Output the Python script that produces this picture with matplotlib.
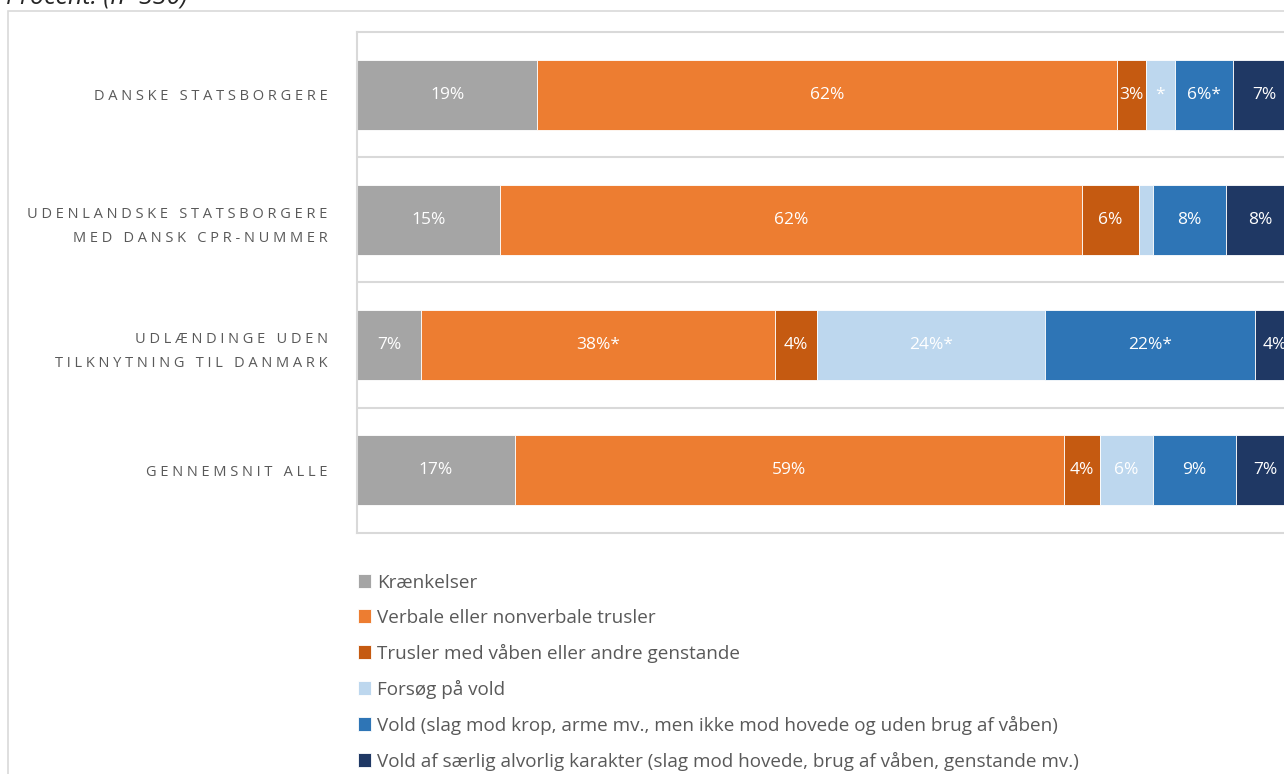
import matplotlib.pyplot as plt
from matplotlib.patches import Rectangle

plt.rcParams['font.family'] = ['Open Sans', 'DejaVu Sans']

# Data
kategorier = ['DANSKE STATSBORGERE',
              'UDENLANDSKE STATSBORGERE\nMED DANSK CPR-NUMMER',
              'UDLÆNDINGE UDEN\nTILKNYTNING TIL DANMARK',
              'GENNEMSNIT ALLE']
serier = ['Krænkelser',
          'Verbale eller nonverbale trusler',
          'Trusler med våben eller andre genstande',
          'Forsøg på vold',
          'Vold (slag mod krop, arme mv., men ikke mod hovede og uden brug af våben)',
          'Vold af særlig alvorlig karakter (slag mod hovede, brug af våben, genstande mv.)']
kraenkelser = [19.2, 15.2, 6.8, 16.8]
verbale = [61.8, 62.1, 37.8, 58.6]
trusler_vaaben = [3.1, 6.1, 4.4, 3.8]
forsoeg = [3.1, 1.5, 24.4, 5.7]
vold = [6.2, 7.7, 22.3, 8.8]
alvorlig = [6.6, 7.4, 4.3, 6.3]
etiketter = [['19%', '15%', '7%', '17%'],
             ['62%', '62%', '38%*', '59%'],
             ['3%', '6%', '4%', '4%'],
             ['*', '', '24%*', '6%'],
             ['6%*', '8%', '22%*', '9%'],
             ['7%', '8%', '4%', '7%']]
farver = ['#A5A5A5', '#ED7D31', '#C55A11', '#BDD7EE', '#2E75B6', '#1F3864']

W, H = 1284, 774
fig = plt.figure(figsize=(W / 100, H / 100), dpi=100)

# ydre ramme
fig.patches.append(Rectangle((8 / W, -0.2), 2.0, 1.2 - 11 / H, transform=fig.transFigure,
                             fill=False, edgecolor='#D9D9D9', linewidth=1.2))
fig.text(6 / W, 1 - 4 / H, 'Procent. (n=330)', style='italic', fontsize=18,
         color='#262626', va='baseline')

ax = fig.add_axes([357 / W, 1 - 533 / H, 938 / W, 501 / H])

data = [kraenkelser, verbale, trusler_vaaben, forsoeg, vold, alvorlig]
y = range(len(kategorier))
venstre = [0] * len(kategorier)
handles = []
for vals, lab, farve, navn in zip(data, etiketter, farver, serier):
    b = ax.barh(y, vals, left=venstre, height=0.56, color=farve, edgecolor='white',
                linewidth=0.6, label=navn)
    handles.append(b)
    ax.bar_label(b, labels=lab, label_type='center', color='white', fontsize=12.5)
    venstre = [l + v for l, v in zip(venstre, vals)]

ax.set_xlim(0, 100)
ax.set_ylim(3.5, -0.5)
ax.set_xticks([])
ax.set_yticks(list(y))


def spred(tekst):
    return '\n'.join(' '.join(linje) for linje in tekst.split('\n'))


ax.set_yticklabels([spred(k) for k in kategorier], fontsize=10.5, color='#595959',
                   linespacing=1.8)
ax.tick_params(axis='y', length=0, pad=21)
for yy in [0.5, 1.5, 2.5]:
    ax.axhline(yy, color='#D9D9D9', linewidth=1.5)
for s in ax.spines.values():
    s.set_color('#D9D9D9')
    s.set_linewidth(1.5)

fig.legend(handles=handles, labels=serier, loc='upper left',
           bbox_to_anchor=(350 / W, 1 - 566 / H), frameon=False, fontsize=13.6,
           labelcolor='#595959', handlelength=0.72, handleheight=0.72,
           handletextpad=0.3, labelspacing=0.9, borderaxespad=0)

fig.savefig('out.png', dpi=100)
